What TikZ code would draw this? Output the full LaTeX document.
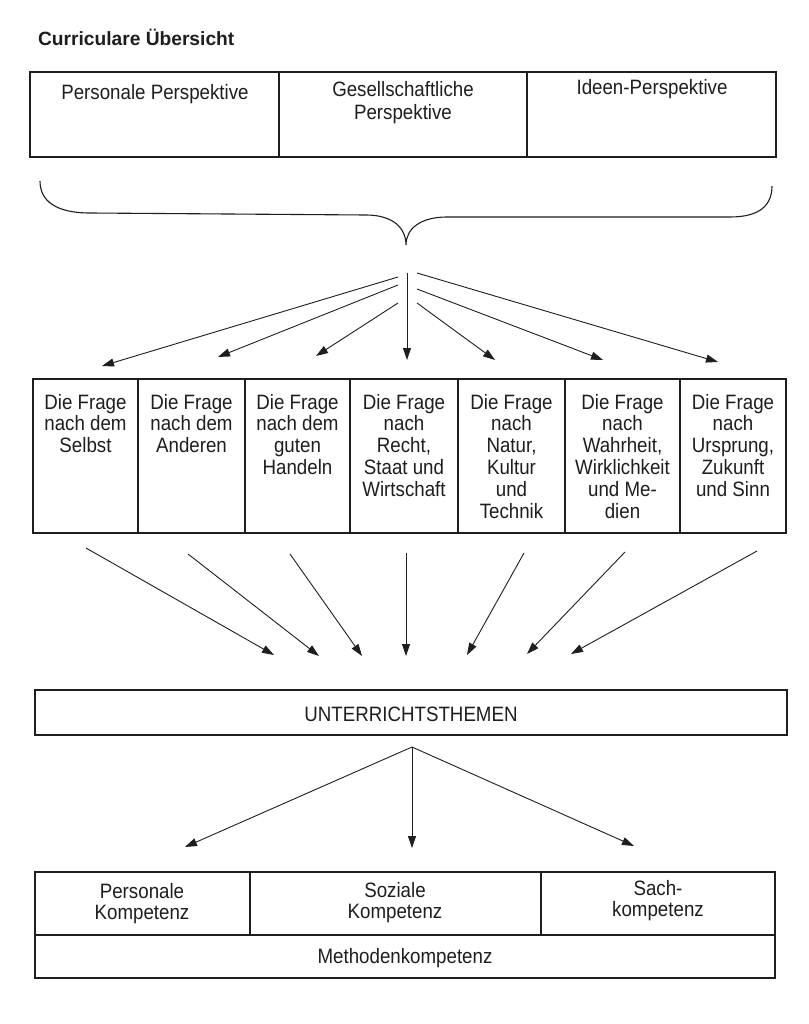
\documentclass[tikz,border=0pt]{standalone}
\usepackage{fontspec}
\setmainfont{Liberation Sans}
\newfontfamily\narrowfont{Liberation Sans}[FakeStretch=0.9]
\usetikzlibrary{arrows.meta}
\newcommand{\mlines}[1]{\begin{tabular}[t]{@{}c@{}}#1\end{tabular}}
\definecolor{ink}{HTML}{1E1E1E}
\begin{document}
\begin{tikzpicture}[x=1pt,y=-1pt,
  every node/.style={inner sep=0pt,outer sep=0pt},
  cell/.style={draw=ink,line width=1.1pt,anchor=north west},
  txt/.style={anchor=base,text=ink,font=\narrowfont\fontsize{20.8}{21.8}\selectfont},
  wtxt/.style={anchor=base,text=ink,font=\fontsize{19}{23}\selectfont},
  conn/.style={draw=ink,line width=0.9pt,-{Triangle[length=12pt,width=8pt]}},
  brace/.style={draw=ink,line width=1.1pt},
 ]
\useasboundingbox[fill=white] (0,0) rectangle (808,1024);

% title
\node[anchor=base west,text=ink,font=\fontsize{19.2}{22}\selectfont\bfseries] (title) at (38,46) {Curriculare Übersicht};

% top row of perspectives
\node[cell,minimum width=249pt,minimum height=85pt] (p1) at (30,72) {};
\node[cell,minimum width=248pt,minimum height=85pt] (p2) at (279,72) {};
\node[cell,minimum width=249pt,minimum height=85pt] (p3) at (527,72) {};
\node[txt] (tp1) at (155,100) {Personale Perspektive};
\node[txt] (tp2) at (403,97) {\mlines{Gesellschaftliche\\[1pt]Perspektive}};
\node[txt] (tp3) at (652,95) {Ideen-Perspektive};

% brace
\coordinate (tip) at (406,245);
\draw[brace] (40,181) .. controls (40,201) and (56,213) .. (90,213) -- (366,215)
  .. controls (393,215) and (406,228) .. (tip)
  .. controls (406,229) and (420,217) .. (447,217) -- (730,217)
  .. controls (760,217) and (772,205) .. (772,186);

% fan from brace to questions
\coordinate (s1) at (398,277); \coordinate (e1) at (102,366);
\coordinate (s2) at (398,285); \coordinate (e2) at (218,357);
\coordinate (s3) at (398,303); \coordinate (e3) at (316,356);
\coordinate (s4) at (407,273); \coordinate (e4) at (407,360);
\coordinate (s5) at (417,303); \coordinate (e5) at (495,360);
\coordinate (s6) at (417,289); \coordinate (e6) at (603,360);
\coordinate (s7) at (417,273); \coordinate (e7) at (718,362);
\foreach \i in {1,...,7} {\draw[conn] (s\i) -- (e\i);}

% question boxes
\node[cell,minimum width=105pt,minimum height=154pt] (q1) at (33,379) {};
\node[cell,minimum width=107pt,minimum height=154pt] (q2) at (138,379) {};
\node[cell,minimum width=105pt,minimum height=154pt] (q3) at (245,379) {};
\node[cell,minimum width=108pt,minimum height=154pt] (q4) at (350,379) {};
\node[cell,minimum width=107pt,minimum height=154pt] (q5) at (458,379) {};
\node[cell,minimum width=115pt,minimum height=154pt] (q6) at (565,379) {};
\node[cell,minimum width=106pt,minimum height=154pt] (q7) at (680,379) {};
\node[txt] (tq1) at (85.5,409) {\mlines{Die Frage\\nach dem\\Selbst}};
\node[txt] (tq2) at (191.5,409) {\mlines{Die Frage\\nach dem\\Anderen}};
\node[txt] (tq3) at (297.5,409) {\mlines{Die Frage\\nach dem\\guten\\Handeln}};
\node[txt] (tq4) at (404,409) {\mlines{Die Frage\\nach\\Recht,\\Staat und\\Wirtschaft}};
\node[txt] (tq5) at (511.5,409) {\mlines{Die Frage\\nach\\Natur,\\Kultur\\und\\Technik}};
\node[txt] (tq6) at (622.5,409) {\mlines{Die Frage\\nach\\Wahrheit,\\Wirklichkeit\\und Me-\\dien}};
\node[txt] (tq7) at (733,409) {\mlines{Die Frage\\nach\\Ursprung,\\Zukunft\\und Sinn}};

% arrows to topics
\coordinate (a1) at (86,548);  \coordinate (b1) at (274,655);
\coordinate (a2) at (188,554); \coordinate (b2) at (319,656);
\coordinate (a3) at (290,554); \coordinate (b3) at (362,656);
\coordinate (a4) at (406,553); \coordinate (b4) at (406,656);
\coordinate (a5) at (524,553); \coordinate (b5) at (467,655);
\coordinate (a6) at (625,552); \coordinate (b6) at (527,654);
\coordinate (a7) at (757,551); \coordinate (b7) at (571,654);
\foreach \i in {1,...,7} {\draw[conn] (a\i) -- (b\i);}

% topics box
\node[cell,minimum width=752pt,minimum height=45pt] (topics) at (35,690) {};
\node[txt] (ttopics) at (411,721) {UNTERRICHTSTHEMEN};

% fan to competences
\coordinate (apex) at (412,747);
\coordinate (c1) at (185,847);
\coordinate (c2) at (412,848);
\coordinate (c3) at (634,846);
\draw[conn] (apex) -- (c1);
\draw[conn] (apex) -- (c2);
\draw[conn] (apex) -- (c3);

% competence boxes
\node[cell,minimum width=215pt,minimum height=63pt] (k1) at (35,872) {};
\node[cell,minimum width=291pt,minimum height=63pt] (k2) at (250,872) {};
\node[cell,minimum width=234pt,minimum height=63pt] (k3) at (541,872) {};
\node[cell,minimum width=740pt,minimum height=43pt] (km) at (35,935) {};
\node[txt] (tk1) at (142,898) {\mlines{Personale\\Kompetenz}};
\node[txt] (tk2) at (395,897) {\mlines{Soziale\\Kompetenz}};
\node[txt] (tk3) at (658,895) {\mlines{Sach-\\kompetenz}};
\node[txt] (tkm) at (405,963) {Methodenkompetenz};
\end{tikzpicture}
\end{document}
